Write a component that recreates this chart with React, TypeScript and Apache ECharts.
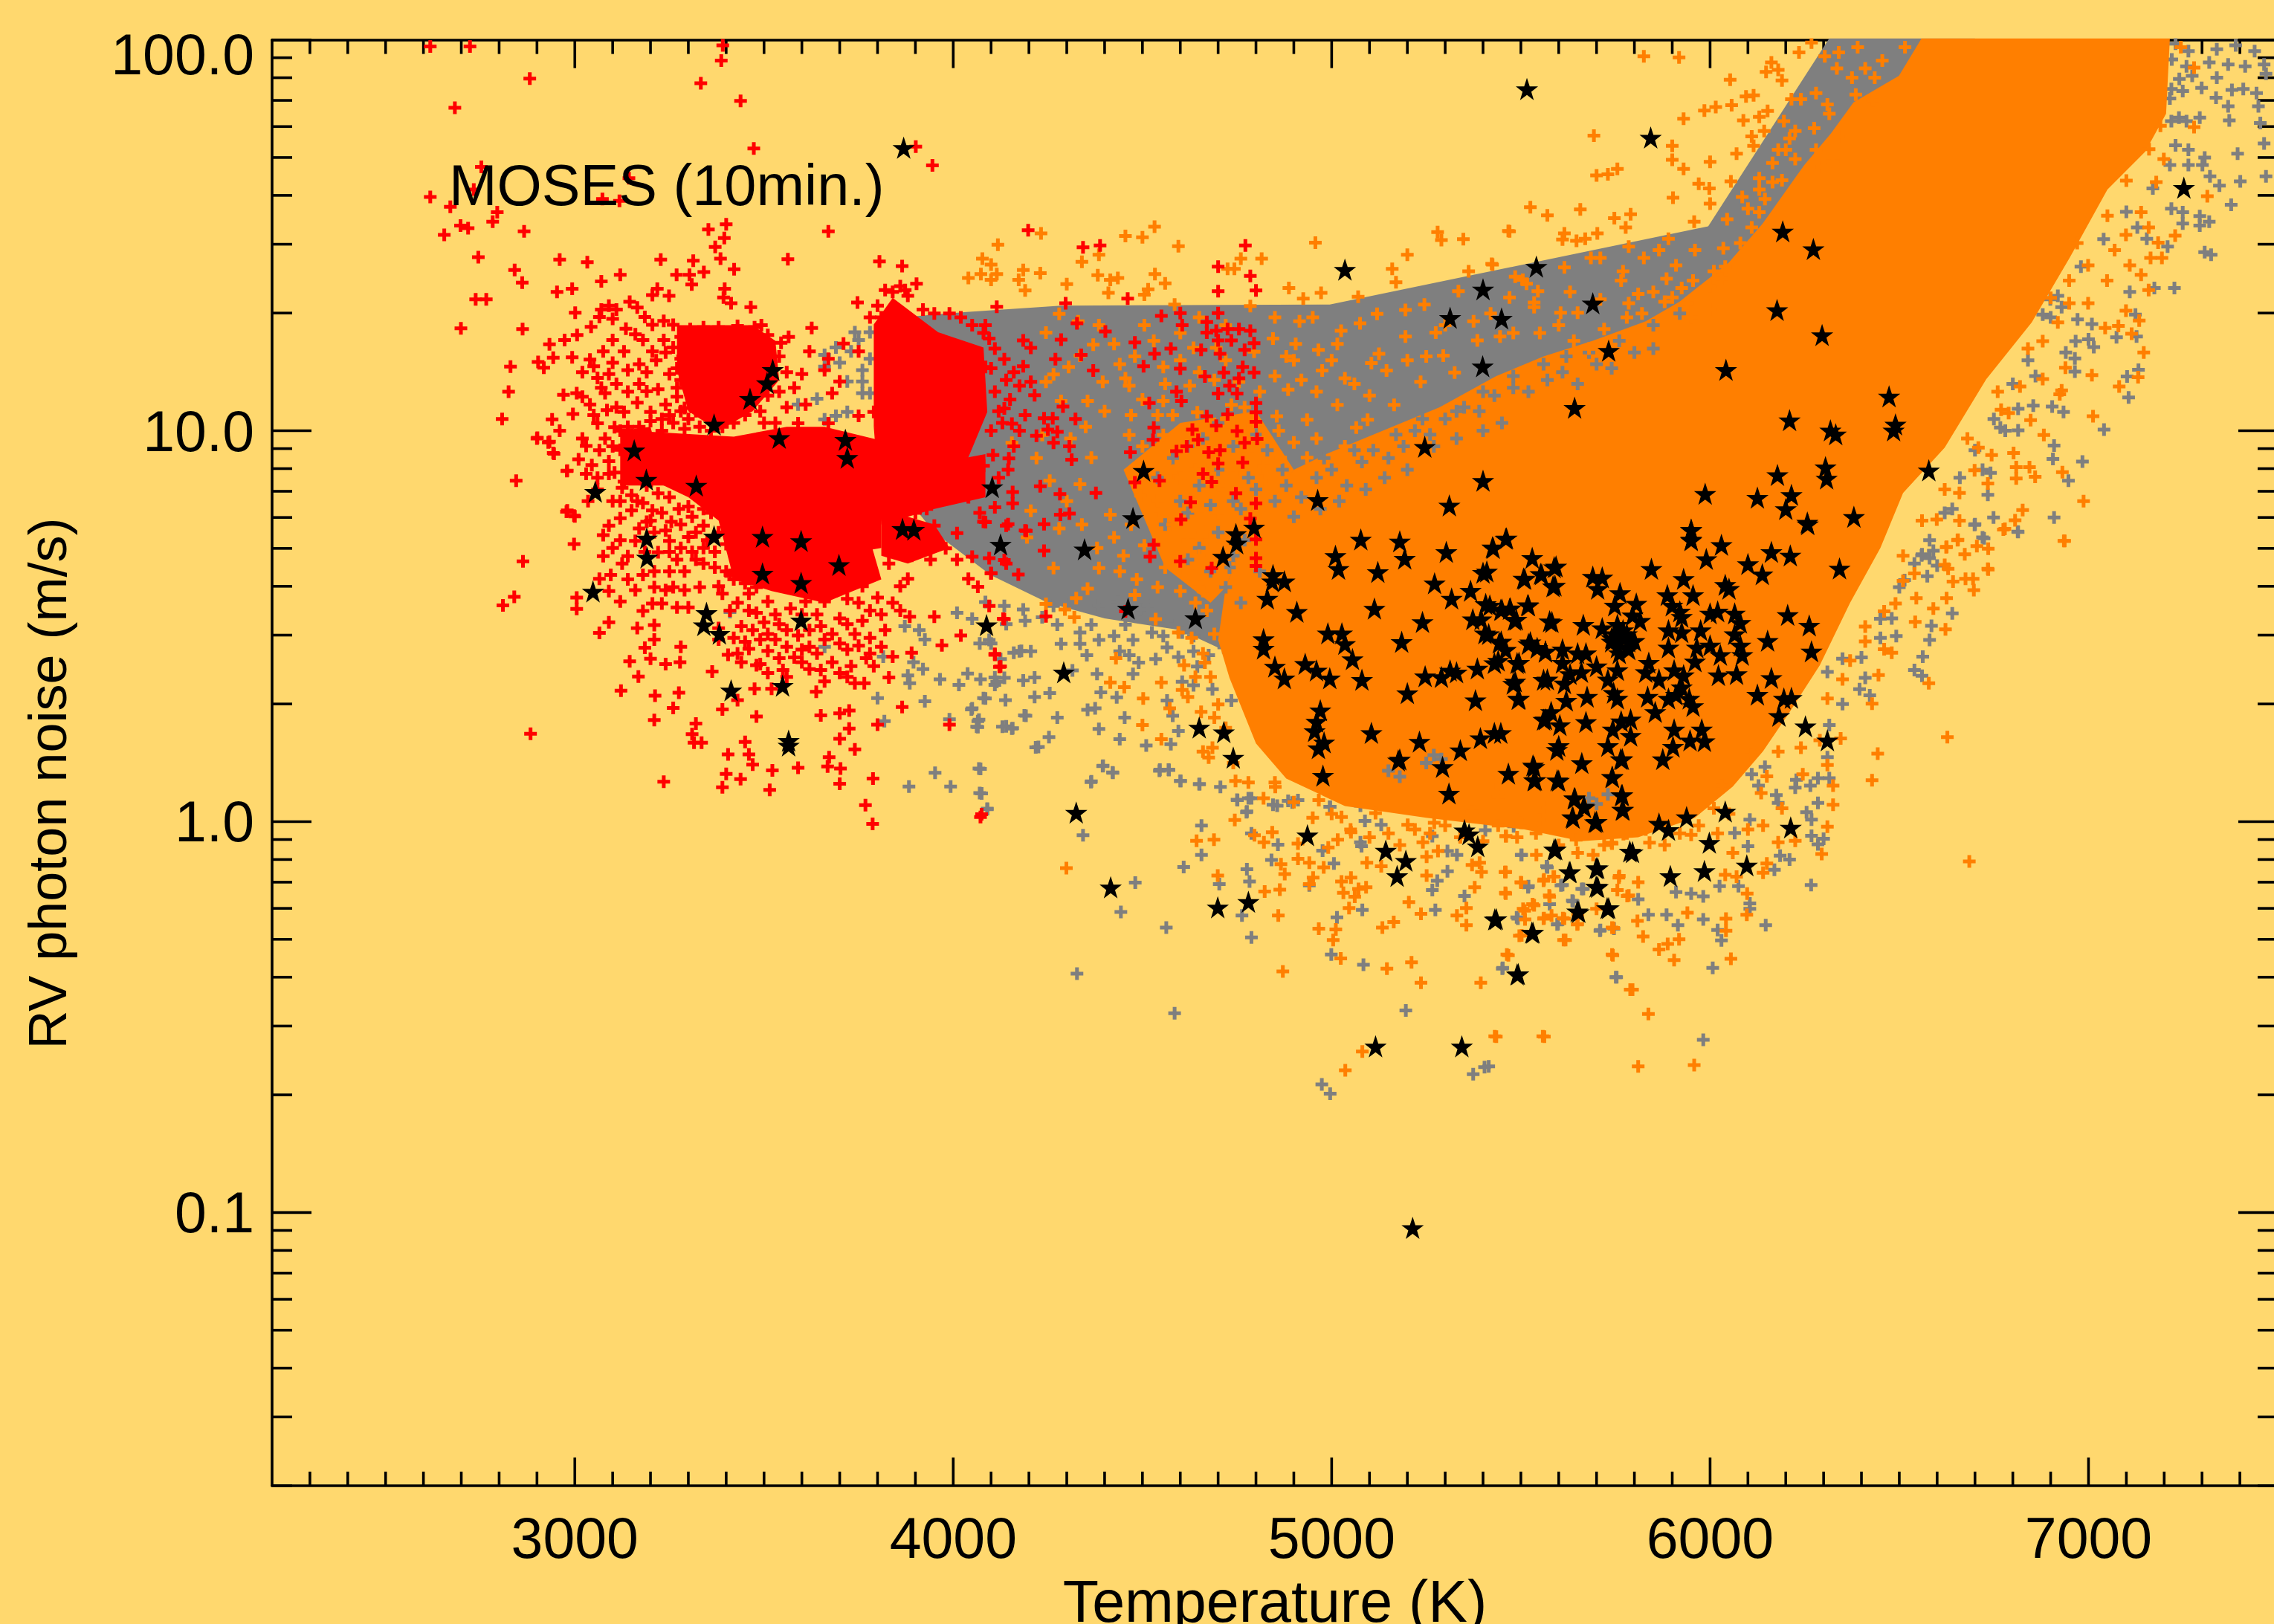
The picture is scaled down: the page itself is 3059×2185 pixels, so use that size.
import React, { useEffect, useRef } from "react";
import * as echarts from "echarts";

// Every pair is [temperature in K, 1000 * log10(noise in m/s)].
const xMajorTicks = [3000, 4000, 5000, 6000, 7000];
const xMinorTicks = [2300,2400,2500,2600,2700,2800,2900,3100,3200,3300,3400,3500,3600,3700,3800,3900,4100,4200,4300,4400,4500,4600,4700,4800,4900,5100,5200,5300,5400,5500,5600,5700,5800,5900,6100,6200,6300,6400,6500,6600,6700,6800,6900,7100,7200,7300,7400];
const yMajorTicks = [0.1, 1, 10, 100];
const yMinorTicks = [0.02,0.03,0.04,0.05,0.06,0.07,0.08,0.09,0.2,0.3,0.4,0.5,0.6,0.7,0.8,0.9,2,3,4,5,6,7,8,9,20,30,40,50,60,70,80,90];
const xTickLabels = [3000, 4000, 5000, 6000, 7000];
const yTickLabels = [0.1, 1, 10, 100];

const grayMass = [[3800,1285],[4035,1304],[4285,1320],[4995,1323],[5995,1523],[6315,2004],[6700,2004],[6700,1400],[5500,300],[4800,400],[4600,490],[4400,520],[4250,560],[4100,630],[3950,740],[3900,800],[3800,950]];
const orangeMass = [[6559,2004],[6499,1908],[6379,1840],[6319,1760],[6249,1680],[6139,1530],[6049,1430],[5919,1330],[5830,1280],[5690,1230],[5560,1190],[5435,1140],[5285,1060],[5135,1000],[4985,940],[4900,900],[4835,830],[4770,720],[4720,600],[4700,465],[4730,368],[4800,200],[4880,110],[5035,40],[5250,10],[5510,-20],[5660,-50],[5810,-40],[5960,10],[6060,90],[6140,180],[6210,280],[6290,400],[6370,560],[6450,700],[6510,841],[6620,957],[6730,1132],[6850,1277],[6950,1442],[7050,1617],[7150,1714],[7205,1811],[7215,2004]];
const orangePatch = [[4450,900],[4600,1020],[4800,1050],[4900,900],[4770,720],[4720,600],[4680,560],[4560,650]];
const redMassA = [[3270,1270],[3470,1270],[3530,1230],[3540,1130],[3470,1050],[3380,1000],[3300,1050],[3270,1155]];
const redMassB = [[3150,1000],[3420,985],[3560,1010],[3660,1010],[3810,975],[3810,700],[3690,680],[3600,740],[3490,720],[3380,770],[3300,830],[3170,890]];
const redMassC = [[3380,770],[3780,720],[3810,620],[3660,560],[3520,590],[3420,620]];
const redMassD = [[3790,1272],[3840,1340],[3960,1252],[4080,1213],[4090,1048],[4040,932],[3900,951],[3790,1010]];
const redMassE = [[3790,1010],[4040,932],[4085,940],[4085,830],[3950,800],[3810,760]];
const redMassF = [[3810,800],[3950,760],[3990,700],[3880,660],[3810,680]];
const redMassG = [[3120,1000],[3200,1010],[3240,860],[3120,860]];

const grayCrosses = [[3410,536],[3660,447],[3815,422],[3872,500],[3910,490],[3925,466],[3895,408],[3920,390],[3880,374],[3885,354],[3965,364],[4038,379],[4072,364],[4015,350],[4110,369],[4185,361],[4138,311],[4080,316],[4048,287],[3800,316],[3925,308],[3818,257],[3990,262],[4065,257],[4062,243],[4188,272],[4130,243],[4155,238],[4218,190],[4068,136],[3952,125],[3883,90],[3993,90],[4070,73],[4090,32],[4110,350],[4160,432],[4010,534],[4050,519],[4100,456],[4180,437],[4070,456],[4140,505],[4190,514],[4215,369],
[3690,1213],[3740,1252],[3660,1164],[3720,1126],[3760,1126],[3760,1096],[3590,1067],[3640,1082],[3690,1038],[3720,1048],[3660,1029],[3780,1252],[3730,1203],[3760,1155],[3700,1174],[3750,1232],[3660,1194],[3780,1184],[3780,1096],
[4235,523],[4385,552],[4455,504],[4365,504],[4275,504],[4175,436],[4205,436],[4115,358],[4085,315],[4135,368],[4215,319],[4255,329],[4335,455],[4353,426],[4315,387],[4380,378],[4440,436],[4475,378],[4490,407],[4535,416],[4565,446],[4525,484],[4595,421],[4635,436],[4675,426],[4605,358],[4635,349],[4565,310],[4390,331],[4432,318],[4050,290],[4068,261],[4065,242],[4140,244],[4157,239],[4192,271],[4275,266],[4375,290],[4355,286],[4385,237],[4453,266],[4440,211],[4225,191],[4253,216],[4072,135],[4395,142],[4422,125],[4510,195],[4580,271],[4575,198],[4595,232],[4545,130],[4570,132],[4365,103],[4600,104],[4650,96],[4075,72],[4090,33],[4750,56],[4780,60],[4775,24],[4885,53],[4845,43],[4995,38],[5185,48],[5215,48],[4305,557],[4335,484],[4495,543],[4565,514],[4635,475],[4715,446],[4755,397],[4775,349],[4735,310],[4685,339],
[4085,562],[4135,552],[4185,543],[4265,552],[4435,562],[4515,552],[4385,465],[4285,455],[4095,465],[4125,416],[4425,475],[4475,465],[4555,475],[4605,484],[4645,397],[4465,426],
[4396,143],[4421,126],[4364,101],[4546,133],[4569,133],[4601,104],[4651,96],[4706,89],[4751,55],[4788,60],[4776,26],[4656,-10],[4788,-30],[4343,-35],[4858,-59],[4656,-85],[4841,-98],[4609,-116],[4776,-122],[4783,-153],[4481,-156],[4703,-160],[4443,-231],[4763,-240],[4563,-271],[4788,-296],[4327,-389],[4585,-490],[5014,-245],[4999,-340],[5084,-366],[5196,-483],[4974,-672],[4996,-696],[5404,-628],[5374,-646],[5451,-376],[5751,-398],[5081,-226],[5351,-190],[5274,-226],[5266,-175],[5279,-151],[5306,-127],[5331,-85],[5306,-75],[5266,-37],[5519,-168],[5501,-85],[5568,-114],[5606,-163],[5636,-202],[5661,-172],[5576,-211],[5596,-263],[5489,-245],[5709,-279],[5746,-274],[4941,-163],[5006,-107],[4976,-74],[5076,-53],[5079,-63],[5131,-8],[5088,2],[4996,38],[5076,41],[5131,51],[4856,41],[4896,49],[4911,55],[5231,75],[5391,89],[5446,7],[5406,-22],[5481,-12],
[6813,742],[6720,727],[6700,761],[6590,693],[6560,684],[6580,674],[6600,655],[6640,533],[6585,501],[6580,465],[6492,475],[6562,422],[6540,388],[6560,373],[6450,519],[6410,368],[6395,339],[6422,323],[6350,417],[6295,465],[6310,383],[6350,301],[6315,247],[6310,165],[6315,111],[6285,111],[6285,48],[6255,24],[6268,5],[6268,-36],[6300,-44],[6285,-58],[6210,-97],[6185,-87],[6170,-123],[6228,107],[6225,87],[6265,92],[6145,140],[6110,121],[6128,92],[6175,68],[6180,48],[6105,5],[6065,-29],[6100,-63],[6267,-162],[6147,-265],[6105,-209],[6105,-223],[6075,-165],[6020,-277],[6030,-304],[5982,-250],[6007,-374],[5915,-265],[5885,-238],[5837,-238],[5753,-398],[5452,-374],[5982,-558],[5710,-277],[5598,-262],[5492,-248],[5638,-204],[5665,-172],[5610,-162],[5520,-165],[5570,-117],[5502,-85],[5415,-626],[5810,-199],[5910,-180],[5950,-184],[5982,-191],[6025,-165],
[7339,1976],[7389,1986],[7439,1971],[7319,1942],[7369,1937],[7414,1932],[7464,1937],[7469,1913],[7264,1971],[7259,1932],[7274,1908],[7299,1877],[7337,1852],[7339,1903],[7379,1872],[7409,1874],[7444,1864],[7369,1830],[7372,1794],[7449,1830],[7219,1874],[7249,1869],[7239,1801],[7294,1801],[7219,1792],[7259,1792],[7264,1719],[7307,1699],[7301,1680],[7264,1680],[7394,1709],[7464,1735],[7454,1787],[7321,1651],[7346,1627],[7401,1638],[7469,1651],[7377,1578],[7249,1559],[7219,1568],[7294,1549],[7319,1535],[7294,1525],[7249,1530],[7307,1457],[7324,1450],[7227,1365],[7174,1365],[7109,1355],[7209,1471],[7129,1520],[7154,1491],[7124,1297],[7127,1241],[7074,1239],[7014,1214],[7000,1234],[6966,1229],[7009,1273],[6971,1285],[6964,1185],[6964,1151],[7132,1156],[7102,1139],[7106,1085],[7041,1003],[6984,921],[6947,872],[6909,962],[6906,928],[6909,778],[6814,741],[6934,1048],[6904,1062],[6854,1064],[6814,1056],[6814,1001],[6767,1008],[6741,892],[6734,836],[6749,778],[6699,759],[6724,725],[6559,681],[6574,628],[6514,618],[6919,1345],[6929,1316],[6879,1297],[6899,1336],
[6900,1290],[6840,1180],[6800,1120],[6750,1030],[6700,950],[6660,880],[6620,790],[6580,720],[6500,600],[6450,470],[6400,420],[6980,1420],[7040,1490],[7100,1560],[7170,1620],[7215,1680],[7230,1730],[7220,1950],[7230,1990],[7240,1900],[7215,1850],[6940,1200],[6860,1140],[6780,1000],[6720,900],[6640,800],[6540,660],[6480,520]];

const grayOverOrange = [[4760,800],[4800,850],[4850,820],[4880,860],[4920,830],[4960,880],[5000,900],[5040,860],[5080,920],[5110,950],[5150,930],[5190,960],[5220,1000],[5260,990],[5300,1030],[5350,1060],[5390,1050],[5430,1090],[5480,1110],[5520,1100],[5570,1130],[5610,1150],[5650,1120],[5700,1170],[5740,1160],[5800,1200],[5850,1210],[5450,1020],[5400,1000],[5330,980],[5270,960],[5200,900],[5140,880],[5090,850],[5020,820],[4970,800],[4900,780],[4770,720],[4740,680],[4730,650],[4720,600],[4760,560],[4810,640],[5250,150],[5270,170],[5290,160],[5680,60],[5700,45],[5730,70],[5150,130],[5180,115],
[4540,880],[4580,930],[4620,960],[4660,980],[4700,1020],[4740,960],[4800,990],[4830,950],[4870,900],[4780,880],[4700,900],[4650,860],[4600,820],[4560,760],[4620,790],[4680,810],[4740,820],[4700,740],[4650,700],[4620,670],[4680,640],[5560,1170],[5620,1190],[5680,1200],[5760,1230],[5850,1270],[5920,1300],[5480,1140],[5400,1100],[5330,1050],[5240,1030],[5170,990],[5060,950],[4980,930]];

const orangeCrosses = [[5825,1958],[5918,1955],[6235,1968],[6268,1993],[6303,1958],[6340,1968],[6390,1981],[6162,1942],[6148,1918],[6180,1923],[6190,1896],[6053,1898],[6095,1855],[6115,1858],[5985,1819],[6015,1828],[6057,1833],[5930,1798],[6088,1794],[6130,1803],[6152,1818],[5693,1755],[6143,1767],[6110,1753],[6115,1729],[5900,1729],[5900,1693],[5930,1670],[5755,1670],[5730,1656],[5700,1653],[6000,1688],[6070,1709],[6055,1638],[5970,1632],[5998,1620],[5902,1596],[6000,1581],[5525,1572],[5570,1551],[5657,1566],[5747,1544],[5790,1554],[5777,1520],[5470,1510],[5615,1505],[5610,1489],[5647,1486],[5670,1491],[5702,1505],[5958,1535],[6215,1848],[6240,1848],[6195,1792],[5425,1425],
[6335,1927],[6280,1864],[6310,1835],[6315,1811],[6225,1767],[6275,1774],[6210,1748],[6280,1719],[6225,1695],[6200,1719],[6180,1719],[6165,1685],[6130,1646],[6130,1617],[6165,1636],[6190,1641],[6085,1598],[6145,1593],[6045,1541],[6100,1568],[6130,1559],[6110,1520],[5960,1462],[6035,1467],[5890,1491],[5865,1462],[5825,1442],[5785,1471],[5685,1442],[5710,1442],[5615,1418],[5910,1423],[5770,1408],[5765,1384],[5885,1389],[5955,1384],[6010,1408],[6030,1389],[6000,1370],[5925,1365],[5850,1355],[5810,1350],[5710,1336],[5785,1326],[5630,1355],[5545,1357],[5485,1394],[5515,1376],[5470,1341],[5535,1316],[5650,1302],[5605,1302],[5900,1341],[5940,1326],[6375,1903],[6410,1927],[6455,1947],[6435,1903],[6385,1860],[6430,1845],[6340,1753],[6295,1675],[6325,1690],[6515,1981],
[4232,1505],[4118,1476],[4455,1498],[4500,1495],[4532,1522],[4595,1472],[4385,1450],[4340,1432],[4077,1440],[4100,1425],[4115,1401],[4073,1401],[4185,1411],[4230,1403],[4040,1391],[4100,1386],[4173,1386],[4190,1359],[4300,1375],[4382,1398],[4415,1386],[4435,1391],[4533,1401],[4560,1377],[4410,1353],[4505,1348],[4515,1362],[4760,1440],[4815,1440],[4725,1414],[4743,1414],[4887,1365],[4972,1353],[4925,1338],[4957,1481],[5200,1450],[5160,1414],[5170,1380],[5280,1508],[5290,1488],[5348,1490],[5467,1511],[5423,1427],[5362,1408],[5070,1343],[4585,1323],
[4245,1251],[4280,1299],[4385,1270],[4505,1270],[4425,1222],[4305,1163],[4265,1144],[4335,1192],[4455,1134],[4555,1163],[4635,1212],[4785,1319],[4845,1236],[4915,1280],[4950,1290],[4905,1222],[4965,1207],[5015,1222],[5075,1275],[5120,1299],[5025,1256],[5195,1309],[5245,1323],[5125,1197],[5195,1241],[5275,1251],[5335,1357],[5375,1280],[5445,1241],[5505,1386],[5535,1328],[4975,1154],[5035,1134],[5105,1173],[5145,1154],[5295,1192],[5325,1149],[5385,1231],[4885,1105],[4795,1202],[4755,1125],[4695,1212],[4625,1115],[4555,1076],[4465,1115],[4395,1125],[4355,1076],[4285,1076],[4245,1125],[4155,969],[4235,989],[4365,931],[4465,989],[4555,989],[4645,1047],[4735,1066],[4855,1037],[4935,1028],[5015,1066],[5095,1028],[5165,1066],[5235,1125],[5035,960],[4935,931],[5065,1008],[4865,931],[4815,872],[4685,911],[4575,892],[4495,834],[4415,785],[4335,863],[4255,872],[4205,795],[4195,727],[4265,649],[4385,649],[4425,727],[4505,707],[4535,775],[4645,795],[4595,678],[4485,620],[4355,596],[4325,572],[4245,557],[4295,543],[4320,523],[4535,518],
[4560,1120],[4600,1180],[4650,1150],[4690,1130],[4720,1180],[4770,1060],[4810,1100],[4850,1140],[4880,1190],[4920,1130],[4960,1100],[4700,1000],[4740,1010],[4780,1000],[4820,980],[4860,1000],[4900,970],[4960,980],[4620,1000],[4580,1040],[4540,1040],[4500,1080],[4470,1040],[4500,960],[4560,920],[4600,880],[4640,900],[4700,860],[4750,900],[4780,940],[4820,910],[4760,840],[4700,790],[4660,740],[4620,720],[4580,760],[4540,820],[4470,760],[4450,680],[4560,650],[4620,640],[4650,680],[4680,720],[4700,650],[4660,590],[4600,590],[4640,560],[4540,600],[4480,580],[4440,640],[4380,700],[4340,760],[4300,820],[4280,750],[4220,930],[4310,980],[4350,1010],[4400,1050],[4440,1170],[4480,1190],[4370,1220],[4330,1280],[4530,1230],[4600,1250],[4650,1290],[4720,1270],[4850,1290],[4900,1180],[5000,1180],[5060,1120],[5100,1090],[5200,1180],[5250,1190],[5300,1270],[5420,1300],[5480,1250],[5550,1250],[5600,1270],[5640,1230],[5680,1210],[5720,1260],[5780,1290],[5820,1300],[5880,1330],[5950,1290],[6000,1310],[6040,1420],[6080,1480],
[4595,484],[4630,470],[4665,407],[4430,418],[4415,356],[4452,344],[4550,356],[4605,337],[4620,319],[4502,315],[4572,290],[4655,281],[4690,266],[4500,247],[4550,211],[4660,179],[4675,164],[4685,189],
[4299,-119],[4643,-49],[4689,-46],[4744,4],[4699,-138],[4823,-179],[4863,-174],[4859,-240],[4871,-383],[4966,-274],[5011,-276],[5004,-303],[5024,-350],[5146,-376],[5211,-360],[5236,-412],[5394,-412],[5463,-340],[5741,-340],[5789,-430],[5431,-549],[5558,-549],[5081,-588],[5036,-636],[5356,-221],[5331,-240],[5356,-265],[5236,-236],[5204,-206],[5164,-257],[5134,-271],[5046,-221],[5061,-192],[5091,-168],[5031,-182],[5026,-153],[5051,-143],[5071,-172],[4941,-160],[4951,-143],[4876,-134],[4866,-109],[4941,-105],[4911,-95],[4979,-117],[5093,-105],[5131,-114],[5251,-138],[5391,-105],[5371,-111],[5396,-129],[5378,-168],[5458,-129],[5501,-156],[5459,-182],[5531,-211],[5506,-223],[5561,-247],[5581,-240],[5611,-247],[5649,-263],[5496,-292],[5613,-303],[5741,-271],[5576,-192],[5511,-250],[5561,-148],[5586,-141],[5759,-143],[5781,-190],[4796,-35],[4843,-27],[4821,-53],[4911,-56],[4991,-66],[5016,-46],[5051,-27],[5201,-8],[5241,-53],[5281,-75],[5251,-90],[5461,-37],[5541,-85],[5646,-46],[5691,-85],[5741,-56],[4746,104],[4851,89],[4966,55],[5026,12],[5116,22],[5271,-3],[5371,26],[5501,-3],[5571,36],[5651,26],[5771,-32],
[5000,20],[5050,-20],[5100,-40],[5150,-30],[5180,-60],[5220,-20],[5260,-30],[5300,-10],[5340,-40],[5400,-50],[5440,-10],[5490,-40],[5540,-30],[5600,-60],[5650,-80],[5720,-60],[5780,-30],[5830,-20],[5880,-60],[5920,-30],[5970,-10],[6020,-30],[6060,-80],[6100,-20],[6140,-10],[6050,20],[4900,50],[4950,10],[4850,100],[4820,60],[4780,100],[4740,150],[4720,240],[4700,300],[4680,370],[4660,430],[4640,370],[4610,400],[4690,480],[4670,540],[4650,600],[4710,620],
[5460,-37],[5460,-129],[5500,-155],[5460,-184],[5560,-151],[5588,-141],[5575,-189],[5510,-228],[5535,-214],[5560,-248],[5615,-248],[5650,-262],[5502,-291],[5618,-303],[5467,-342],[5745,-272],[5823,-294],[5808,-254],[5888,-313],[5918,-301],[5865,-327],[5905,-354],[5743,-342],[6055,-351],[6042,-248],[6042,-279],[5940,-233],[6097,-238],[6098,-184],[5795,-430],[5837,-492],[5435,-550],[5562,-550],[5810,-626],[5958,-623],[6428,106],[6443,174],[6627,216],[6685,-102],[6935,718],[6775,747],[6655,721],[6625,703],[6673,684],[6705,705],[6735,698],[6735,645],[6620,657],[6675,621],[6695,621],[6697,592],[6642,614],[6625,572],[6545,572],[6590,545],[6542,511],[6622,492],[6578,354],[6428,302],[6445,375],[6345,213],[6325,92],[6325,43],[6310,-13],[6295,-83],[6225,-49],[6180,-53],[6190,34],[6135,73],[6150,116],[6245,121],[6310,145],[6290,208],[6150,-107],[6140,-131],[6070,-141],[6040,-136],[5760,-139],[5810,-155],[5755,-175],[5785,-189],[5700,-223],[5650,-238],
[6410,461],[6460,441],[6480,432],[6350,364],[6310,315],[6370,412],[6410,499],[6490,558],[6540,635],[6510,616],[6460,538],[6240,189],[6180,179],[6110,170],[6030,92],[6010,34],[5950,-34],[5840,-54],[5740,-54],[5550,5],[5490,5],[5440,63],[5425,102],
[7279,1929],[7244,1981],[7279,1777],[7314,1600],[7229,1499],[7184,1481],[7159,1520],[7164,1442],[7194,1442],[7109,1423],[7139,1399],[7159,1360],[7099,1307],[7134,1282],[7079,1268],[7044,1263],[7114,1248],[7146,1200],[7009,1142],[7131,1137],[7081,1113],[6924,1093],[7012,1037],[6847,1027],[6882,989],[6802,943],[6931,894],[6809,907],[6844,907],[6809,878],[6859,882],[6987,820],[6826,797],[6779,749],[6806,771],[6937,718],[6744,938],[6734,865],[6659,770],[6654,720],[6624,702],[6734,647],[6629,647],[6949,1384],[6999,1326],[7049,1384],[6919,1277],[6939,1161],[6879,1132],[6789,1045],[6929,1103],
[7069,1462],[7099,1501],[7139,1559],[7179,1636],[7199,1695],[6999,1423],[6949,1326],[6879,1229],[6819,1113],[6769,1054],[6709,957],[6699,899],[6659,841],[6599,773],[6510,680],[6560,770],[6620,850],[6680,980],[6760,1100],[6840,1210],[6900,1340],[6970,1480],[7050,1550],[7100,1640],[7160,1720],[7190,1780]];

const redCrosses = [[2618,1983],[2723,1983],[3391,1986],[3387,1947],[2881,1901],[3333,1889],[2683,1826],[3438,1844],[3473,1722],[3901,1727],[3945,1679],[2753,1675],[3143,1646],[2733,1617],[2618,1598],[2671,1573],[3073,1593],[3118,1588],[2795,1559],[2783,1535],[2698,1525],[2718,1518],[2655,1501],[2866,1510],[3353,1515],[3400,1528],[3395,1493],[3670,1510],[3371,1470],[3385,1440],[2745,1444],[2960,1438],[3033,1431],[3227,1438],[3313,1435],[3563,1439],[2841,1411],[2861,1379],[3421,1413],[3269,1399],[3303,1399],[3341,1406],[3309,1374],[3120,1399],[3070,1382],[2993,1363],[2953,1355],[3218,1363],[3205,1347],[3249,1345],[3396,1363],[3393,1341],[3413,1326],[3465,1316],[2738,1336],[2766,1336],[3001,1302],[2699,1262],[2862,1260],[3043,1266],[3006,1245],[2973,1232],[2933,1221],[3493,1270],[3626,1263],[3865,1421],[3903,1376],[3873,1360],[3805,1433],[3747,1328],[2830,1164],[2903,1176],[2918,1161],[2943,1187],[2993,1188],[2825,1100],[2808,1030],[2845,872],[2979,897],[2863,666],[2998,710],[2901,982],[2933,972],[2943,943],[2978,793],[2998,783],
[3070,1310],[3090,1320],[3110,1310],[3145,1330],[3165,1315],[3185,1291],[3205,1271],[3235,1281],[3260,1271],[3065,1291],[3100,1286],[3135,1261],[3100,1232],[3075,1203],[3130,1203],[3100,1174],[3140,1155],[3090,1145],[3160,1247],[3180,1232],[3205,1203],[3235,1232],[3260,1213],[3280,1184],[3250,1145],[3220,1106],[3190,1101],[3165,1072],[3200,1048],[3240,1067],[3270,1087],[3290,1058],[3060,1135],[3005,1096],[2970,1092],[3020,1087],[3080,1096],[3040,1067],[2995,1043],[3085,1053],[3130,1048],[3060,1019],[3105,1009],[3080,980],[3020,980],[3030,961],[2940,1029],[2960,1000],[2900,980],[2930,970],[2945,941],[3010,927],[3045,912],[2980,898],[3090,922],[3120,951],[3105,893],[3125,854],[3100,820],[3150,835],[3180,815],[3205,796],[3150,796],[3120,776],[3090,757],[3075,733],[3000,781],[2980,796],[3075,679],[3190,767],[3255,767],[3300,806],[3340,757],[3300,728],[3250,718],[3220,689],[3270,670],[3320,670],[3340,660],[3160,718],[3140,679],[3180,631],[3095,631],[3065,621],[3160,592],[3240,592],[3290,592],[3120,563],[3005,573],[3005,544],[3180,539],[3205,558],[3230,558],[3270,548],[3300,548],[3090,510],[3065,483],[3210,503],[3165,495],[3210,466],[3185,445],[3280,447],[3145,410],[3200,417],[3240,403],[3278,408],[3168,371],[3122,335],[3212,322],[3275,330],[3260,291],[3210,260],[3363,384],[3320,251],[3310,224],[3335,202],[3315,202],[3405,172],[3460,172],[3470,146],[3450,204],[3480,269],[3390,287],[3430,311],[3475,340],[3520,340],[3638,332],[3650,272],[3700,277],[3725,284],[3725,238],[3700,212],[3740,185],[3672,165],[3668,141],[3702,136],[3590,138],[3522,131],[3515,81],[3438,109],[3400,122],[3390,88],[3235,102],[3700,97],[3788,110],[3768,42],[3787,-6],[4072,12],[2883,225],[2810,553],[2840,575],[3020,1150],[3040,1182],
[3410,631],[3440,631],[3380,602],[3390,583],[3460,583],[3510,563],[3480,534],[3540,505],[3490,466],[3530,466],[3590,476],[3620,447],[3660,466],[3700,456],[3680,408],[3650,388],[3730,398],[3770,418],[3790,398],[3810,447],[3830,369],[3840,422],[3890,432],[3970,451],[4020,476],[3990,248],[3865,293],[3800,248],[4110,427],[4122,396],[4132,519],[3885,524],[3950,524],[3760,514],[3720,505],[3660,563],[3610,563],[3560,602],[3710,612],[3760,602],[3800,573],[3860,602],[3880,621],[3830,660],[3890,680],[3940,670],[3980,699],[4010,670],[4040,621],[4100,636],[4140,757],[4190,745],[4140,660],[4080,767],[4010,738],[3950,757],[3890,738],
[3560,447],[3540,418],[3510,437],[3460,442],[3440,408],[3490,403],[3550,388],[3600,408],[3660,359],[3740,354],[3765,354],[3405,427],[3380,466],[3380,495],
[3620,1203],[3670,1184],[3710,1223],[3750,1203],[3660,1155],[3700,1126],[3680,1096],[3600,1145],[3610,1067],[3590,1019],[3670,1019],[3750,1038],[3790,1048],
[3170,1010],[3200,1025],[3230,1000],[3260,1020],[3290,1005],[3150,990],[3130,960],[3160,940],[3140,910],[3155,880],[3190,860],[3220,840],[3250,830],[3275,800],[3230,790],[3200,770],[3170,750],[3210,740],[3240,745],[3280,760],[3310,780],[3340,800],[3360,790],[3320,740],[3350,720],[3380,740],[3400,710],[3370,690],[3340,700],[3310,690],[3280,700],[3250,690],[3370,650],[3400,640],[3420,620],[3450,610],[3480,600],[3510,620],[3540,625],[3570,600],[3600,620],[3630,600],[3660,600],[3690,590],[3720,570],[3750,560],[3780,540],[3810,530],[3840,560],[3860,540],[3820,490],[3780,470],[3740,480],[3700,520],[3640,530],[3600,530],[3570,545],[3530,530],[3500,510],[3460,540],[3430,560],[3410,540],[3440,500],[3470,490],[3510,480],[3560,490],[3620,490],[3650,500],[3680,480],[3720,440],[3750,450],[3780,430],[3420,470],[3450,460],[3430,430],[3600,440],[3640,430],[3580,420],[3620,390],[3700,380],[3720,370],[3560,370],[3510,380],[3480,400],
[3330,1010],[3360,1000],[3390,1010],[3300,1030],[3280,1050],[3320,1050],[3250,1040],[3230,1030],[3270,1110],[3280,1130],[3300,1120],[3270,1160],[3285,1190],[3300,1210],[3280,1240],[3305,1260],[3340,1265],[3380,1265],[3430,1268],[3475,1265],[3510,1245],[3545,1225],[3565,1240],[3540,1190],[3560,1150],[3580,1110],[3540,1100],[3510,1090],[3490,1050],[3450,1040],[3420,1020],[3500,1020],[3530,1020],[3560,1060],
[3830,1000],[3860,960],[3840,920],[3820,880],[3850,850],[3880,880],[3900,910],[3930,890],[3960,920],[3990,900],[4020,880],[4050,900],[4080,910],[4060,860],[4040,830],[4070,790],[3990,850],[3960,830],[3930,800],[3900,790],[3870,760],[3840,780],[3820,820],[4100,1000],[4120,1050],[4110,1100],[4130,1020],[4150,1080],[4100,1160],[4110,1210],[4140,1130],[4160,960],[4120,880],[4145,900],[4175,1000],[4190,1040],[4160,1150],[4080,1250],[4050,1270],[4020,1290],[3990,1300],[3950,1300],[3920,1310],[3880,1345],[3860,1370],[3840,1355],[3820,1360],[3800,1320],[3780,1290],[3810,1290],
[3050,1165],[3070,1110],[3110,1120],[3050,1040],[3110,1060],[3140,1100],[3170,1170],[3170,1120],[3190,1150],[3215,1180],[3240,1200],[3120,1000],[3140,1010],[3100,960],[3065,950],[3090,890],[3060,880],[3130,870],[3120,820],[3165,820],[3030,890],[3060,850],[3035,820],[3120,720],[3100,700],[3185,690],[3140,620],[3210,640],[3250,640],[3290,640],[3210,600],[3330,600],[3260,600],[3125,660],[3090,590],
[4198,1513],[4343,1469],[4388,1474],[4772,1474],[4700,1420],[4785,1396],[4700,1357],[4800,1359],[4461,1338],[4297,1326],[4550,1294],[4600,1301],[4605,1270],[4700,1301],[4670,1278],[4327,1275],[4402,1254],[4115,1317],[4085,1270],[4095,1236],[4670,1251],[4695,1256],[4725,1260],[4755,1260],[4785,1256],[4700,1231],[4735,1231],[4795,1224],[4480,1226],[4285,1233],[4185,1231],[4205,1212],[4575,1210],[4532,1197],[4655,1207],[4705,1197],[4770,1207],[4338,1194],[4503,1165],[4600,1159],[4370,1154],[4270,1183],[4185,1165],[4205,1125],[4215,1091],[4175,1115],[4135,1183],[4085,1163],[4665,1139],[4715,1149],[4765,1163],[4795,1149],[4755,1134],[4730,1115],[4750,1095],[4590,1100],[4700,1095],[4603,1076],[4518,1071],[4290,1062],[4135,1057],[4155,1018],[4240,1032],[4263,1032],[4323,1030],[4800,1071],[4800,1047],[4800,1023],[4725,1042],[4670,1037],[4695,1013],[4750,999],[4530,1008],[4632,1003],[4528,977],[4647,977],[4770,969],[4803,979],[4220,987],[4275,997],[4250,1003],[4265,969],[4307,960],[4105,938],[4147,929],[4313,926],[4468,945],[4590,948],[4617,960],[4675,945],[4705,950],[4765,919],[4700,916],[4660,890],[4683,869],[4480,868],[4545,872],[4230,858],[4157,843],[4157,814],[4282,838],[4377,841],[4747,840],[4627,817],[4800,814],[4110,804],[4283,785],[4307,788],[4602,773],[4785,775],[4240,761],[4145,761],[4085,766],[4193,744],[4800,722],[4530,708],[4520,678],[4240,693],[4095,674],[4135,669],[4172,632],[4100,635],[4600,666],[4800,674],[4800,654],[4683,649],[4245,525],[4135,518],[4455,538],[4110,429],[4125,397],[4075,19],[4050,678],[4065,601],[4095,552]];

const blackStars = [[3869,1724],[3523,1156],[3508,1122],[3463,1082],[3368,1016],[3540,982],[3715,977],[3720,931],[3157,950],[3189,875],[3321,860],[3054,844],[3866,749],[3896,747],[3368,730],[3496,729],[3598,718],[3190,725],[3191,676],[3698,657],[3496,635],[3598,611],[3048,589],[3348,534],[3341,503],[3382,481],[3598,515],[4088,503],[3413,336],[3549,348],[3565,207],[3565,195],[4103,856],[4125,709],
[5035,1412],[5541,1420],[5400,1362],[5313,1289],[5449,1287],[5399,1165],[5246,959],[5400,872],[4963,823],[5311,809],[4503,898],[4475,777],[4347,697],[4747,736],[4795,753],[4749,712],[4713,678],[5077,722],[5180,717],[5193,673],[5010,680],[5018,647],[5122,639],[5303,690],[5425,702],[5460,724],[5530,675],[5400,637],[5272,610],[5367,591],[5317,571],[5507,622],[5552,634],[5588,651],[5585,602],[5518,554],[4845,631],[4875,615],[4843,615],[4830,571],[4908,537],[5113,545],[5407,557],[5447,542],[5470,544],[5483,516],[5373,518],[5395,518],[5240,511],[5576,513],[5185,460],[4990,482],[5027,482],[5035,455],[5055,416],[4820,467],[4820,443],[5405,482],[5443,458],[5460,440],[5520,455],[5543,445],[5565,435],[5490,406],[5430,406],[5385,392],[4850,397],[4930,404],[4960,387],[4995,367],[4875,367],[5080,363],[5247,372],[5290,370],[5313,387],[5330,382],[5480,353],[5560,363],[5200,329],[5380,311],[5493,314],[4970,285],[4960,256],[4955,232],[4980,203],[4965,188],[5105,227],[5232,205],[5340,183],[5393,214],[5430,227],[5447,227],[5560,261],[5180,159],[5293,140],[4977,118],[5467,123],[5532,144],[5535,106],[5310,72],[4462,545],[4640,521],[4292,382],[4650,241],[4715,229],[4740,164],[4325,23],
[4416,-168],[4699,-219],[4780,-205],[4936,-35],[5143,-74],[5196,-100],[5173,-139],[5351,-22],[5363,-32],[5386,-63],[5588,-71],[5628,-129],[5699,-119],[5699,-166],[5649,-229],[5728,-221],[5431,-250],[5529,-284],[5490,-391],[5116,-575],[5344,-575],[5214,-1039],[5176,157],[5596,106],[5661,150],[5741,115],[5764,160],[5766,68],[5768,31],[5641,60],[5666,39],[5636,12],[5696,-1],[5788,-76],
[5593,653],[5510,621],[5555,633],[5590,604],[5690,627],[5715,625],[5703,596],[5845,647],[5762,585],[5930,621],[5887,580],[5955,580],[6040,606],[6050,596],[5990,672],[6030,708],[5950,747],[5950,722],[6100,659],[6162,690],[6212,681],[6138,633],[6342,648],[6258,761],[6205,529],[6262,502],[6152,463],[6268,436],[6162,368],[6125,325],[6195,315],[6215,317],[6182,271],[6252,244],[6310,208],[6065,533],[6020,538],[6000,533],[6080,509],[5975,490],[6065,480],[5920,538],[5900,553],[5925,524],[5805,558],[5795,528],[5815,514],[5748,553],[5665,504],[5582,511],[5488,517],[5450,543],[5472,546],[5520,553],[5418,553],[5715,495],[5755,504],[5750,480],[5775,470],[5740,461],[5800,463],[5770,490],[5785,441],[5760,431],[5890,490],[5925,485],[5890,446],[6000,451],[5965,446],[6027,427],[6080,451],[6085,427],[5960,410],[5838,407],[5830,383],[5905,388],[6022,375],[6070,378],[5865,364],[5930,375],[5925,344],[5910,325],[5890,315],[5945,315],[5955,296],[5835,320],[5855,281],[5448,461],[5525,459],[5565,436],[5610,441],[5650,431],[5672,431],[5440,412],[5495,407],[5610,407],[5700,398],[5660,383],[5755,388],[5730,364],[5630,378],[5570,364],[5615,354],[5485,359],[5745,330],[5755,315],[5675,320],[5620,310],[5495,315],[5580,281],[5565,262],[5672,255],[5603,247],[5790,262],[5765,257],[5743,236],[5790,220],[5905,236],[5978,236],[5947,208],[5985,206],[5902,192],[5730,194],[5600,194],[5595,184],[5768,160],[5875,160],[5535,140],[5538,107],[5600,105],[5742,114],[5768,68],[5643,60],[5668,37],[5770,31],[5638,10],[5700,0],[5938,12],[6040,26],[6213,-15],[5865,-5],[5890,-21],[5998,-54],[5795,-78],[5592,-71],[5703,-119],[5630,-129],[5895,-139],[5985,-126],[6097,-112],[5703,-167],[5732,-221],[5653,-231],[5435,-249],[5532,-284],[5493,-390],[5765,480],[5785,461],[5740,470],[5760,461],[5780,480],[5755,446],[5410,640],[5415,480],
[5516,1874],[5843,1750],[5690,1326],[5732,1205],[5642,1059],[6192,1510],[6273,1465],[6177,1309],[6296,1245],[6042,1156],[6473,1088],[6210,1027],[6318,1001],[6332,991],[6490,1016],[6485,1001],[6178,887],[6305,907],[6308,878],[6125,829],[5987,839],[6215,836],[6200,800],[6257,765],[6380,780],[6578,899],[5950,746],[5950,720],[5462,725],[5427,700],[7252,1622]];

const FONT = "Liberation Sans";
const BG = "#FFD86E";
const CROSS = "path://M6 0H11V6H17V11H11V17H6V11H0V6H6Z";
const STAR = "path://M50 0L61.8 35.5H97.6L68.6 57.6L79.4 92.7L50 71L20.6 92.7L31.4 57.6L2.4 35.5H38.2Z";
const XMIN = 2200, XMAX = 7500, YMIN = 0.02, YMAX = 100;

const toPoint = (p: number[]) => [p[0], Math.pow(10, p[1] / 1000)];

function massSeries(vertices: number[][], color: string, z: number) {
  const pts = vertices.map(toPoint);
  return {
    type: "custom", coordinateSystem: "cartesian2d", clip: false, silent: true, z,
    data: pts,
    renderItem: (params: any, api: any) => {
      if (params.dataIndex !== 0) return undefined;
      return { type: "polygon", shape: { points: pts.map((q) => api.coord(q)) }, style: { fill: color } };
    },
  };
}
function crossSeries(values: number[][], color: string, z: number) {
  return { type: "scatter", clip: false, silent: true, z, symbol: CROSS, symbolSize: 17, itemStyle: { color, opacity: 1 }, data: values.map(toPoint) };
}
function tickSeries(data: number[][], dx: number, dy: number) {
  return {
    type: "custom", coordinateSystem: "cartesian2d", clip: false, silent: true, z: 1,
    data,
    renderItem: (_p: any, api: any) => {
      const c = api.coord([api.value(0), api.value(1)]);
      return { type: "line", shape: { x1: c[0], y1: c[1], x2: c[0] + dx, y2: c[1] + dy }, style: { stroke: "#000", lineWidth: 3.6 } };
    },
  };
}

export default function App() {
  const ref = useRef<HTMLDivElement>(null);
  useEffect(() => {
    document.body.style.margin = "0";
    document.body.style.overflow = "hidden";
    const chart = echarts.init(ref.current!, undefined, { renderer: "svg" });
    const line = { show: true, onZero: false, lineStyle: { color: "#000", width: 3.6 } };
    chart.setOption({
      animation: false,
      backgroundColor: BG,
      grid: { left: 366, top: 53.6, width: 2698, height: 1945.4, containLabel: false, outerBoundsMode: "none" },
      xAxis: [
        {
          type: "value", min: XMIN, max: XMAX, position: "bottom", axisLine: line, axisTick: { show: false }, splitLine: { show: false },
          name: "Temperature (K)", nameLocation: "middle", nameGap: 116,
          nameTextStyle: { fontFamily: FONT, fontSize: 79, color: "#000" },
          axisLabel: { customValues: xTickLabels, margin: 31, fontFamily: FONT, fontSize: 77, color: "#000", formatter: (v: number) => String(v) },
        },
        { type: "value", min: XMIN, max: XMAX, position: "top", axisLine: line, axisTick: { show: false }, splitLine: { show: false }, axisLabel: { show: false } },
      ],
      yAxis: [
        {
          type: "log", logBase: 10, min: YMIN, max: YMAX, position: "left", axisLine: line, axisTick: { show: false }, splitLine: { show: false }, minorTick: { show: false },
          axisLabel: {
            customValues: yTickLabels, margin: 24, fontFamily: FONT, fontSize: 77, color: "#000",
            formatter: (v: number) => (v >= 100 ? "{t|100.0}" : Number(v).toFixed(1)),
            rich: { t: { fontFamily: FONT, fontSize: 77, color: "#000", padding: [38, 0, 0, 0] } },
          },
        },
        { type: "log", logBase: 10, min: YMIN, max: YMAX, position: "right", axisLine: line, axisTick: { show: false }, splitLine: { show: false }, axisLabel: { show: false } },
      ],
      series: [
        tickSeries(xMajorTicks.map((t) => [t, YMIN]), 0, -38),
        tickSeries(xMinorTicks.map((t) => [t, YMIN]), 0, -19),
        tickSeries(xMajorTicks.map((t) => [t, YMAX]), 0, 38),
        tickSeries(xMinorTicks.map((t) => [t, YMAX]), 0, 19),
        tickSeries(yMajorTicks.map((n) => [XMIN, n]), 53, 0),
        tickSeries(yMinorTicks.map((n) => [XMIN, n]), 27, 0),
        tickSeries(yMajorTicks.map((n) => [XMAX, n]), -53, 0),
        tickSeries(yMinorTicks.map((n) => [XMAX, n]), -27, 0),
        massSeries(grayMass, "#7F7F7F", 3),
        crossSeries(grayCrosses, "#7F7F7F", 4),
        massSeries(orangeMass, "#FF7F00", 5),
        massSeries(orangePatch, "#FF7F00", 5),
        crossSeries(grayOverOrange, "#7F7F7F", 5.5),
        crossSeries(orangeCrosses, "#FF7F00", 6),
        massSeries(redMassA, "#FF0000", 7),
        massSeries(redMassB, "#FF0000", 7),
        massSeries(redMassC, "#FF0000", 7),
        massSeries(redMassD, "#FF0000", 7),
        massSeries(redMassE, "#FF0000", 7),
        massSeries(redMassF, "#FF0000", 7),
        massSeries(redMassG, "#FF0000", 7),
        crossSeries(redCrosses, "#FF0000", 8),
        { type: "scatter", clip: false, silent: true, z: 9, symbol: STAR, symbolSize: 30, itemStyle: { color: "#000", opacity: 1 }, data: blackStars.map(toPoint) },
      ],
      graphic: [
        { type: "rect", z: 50, silent: true, shape: { x: 366, y: 0, width: 2700, height: 51.5 }, style: { fill: BG } },
        { type: "text", z: 60, silent: true, x: 604, y: 249, style: { text: "MOSES (10min.)", fontFamily: FONT, fontSize: 77.5, fill: "#000", verticalAlign: "middle" } },
        { type: "text", z: 60, silent: true, x: 64, y: 1054, rotation: Math.PI / 2, style: { text: "RV photon noise (m/s)", fontFamily: FONT, fontSize: 72, fill: "#000", align: "center", verticalAlign: "middle" } },
      ],
    });
    return () => chart.dispose();
  }, []);
  return <div ref={ref} style={{ width: 3059, height: 2185 }} />;
}
